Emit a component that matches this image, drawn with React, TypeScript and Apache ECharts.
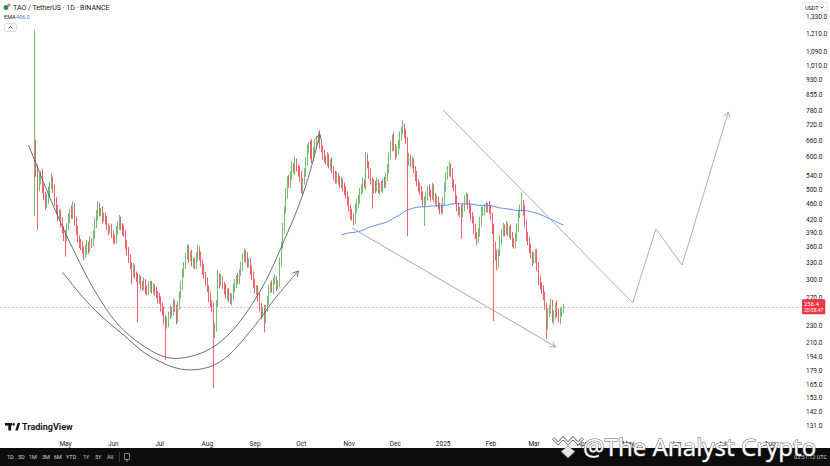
import { useEffect, useRef } from 'react';
import * as echarts from 'echarts';

// TAO / USDT daily, Binance. Day 0 = 2024-04-11 (listing day)
const START_DATE = Date.UTC(2024, 2, 20); // first category on the time axis
const CATEGORY_COUNT = 519;
const FIRST_CANDLE = 22; // category index of 2024-04-11
const FIRST_OPEN = 440;

const CLOSE = [
  614, 560, 510, 525, 545, 505, 480, 460, 470, 495, 512, 528, 500, 470, 445, 430, 438, 415, 398, 385,
  380, 405, 425, 440, 432, 455, 420, 395, 378, 370, 362, 355, 345, 352, 365, 358, 372, 370, 385, 410,
  432, 450, 438, 442, 425, 430, 418, 405, 398, 400, 388, 380, 375, 395, 410, 420, 405, 398, 390, 368,
  350, 340, 325, 315, 320, 308, 305, 298, 300, 292, 288, 295, 285, 280, 288, 292, 283, 286, 282, 276,
  270, 267, 258, 250, 240, 232, 236, 245, 252, 250, 262, 255, 240, 258, 275, 292, 310, 325, 342, 355,
  340, 345, 330, 333, 325, 340, 355, 345, 330, 318, 307, 298, 285, 272, 262, 258, 222, 228, 262, 305,
  295, 300, 290, 284, 275, 280, 270, 267, 272, 285, 295, 302, 298, 312, 325, 338, 348, 340, 328, 332,
  318, 305, 295, 283, 285, 270, 258, 248, 252, 239, 255, 268, 283, 290, 285, 298, 300, 290, 293, 330,
  365, 402, 445, 490, 528, 515, 545, 570, 560, 585, 565, 555, 540, 499, 525, 548, 590, 626, 640, 612,
  598, 625, 648, 665, 680, 650, 630, 610, 595, 588, 600, 575, 582, 560, 545, 528, 538, 530, 515, 522,
  510, 495, 485, 471, 450, 435, 428, 421, 448, 465, 471, 495, 505, 520, 515, 600, 575, 548, 525, 499,
  515, 505, 520, 500, 510, 505, 522, 515, 540, 560, 605, 640, 670, 635, 610, 620, 650, 675, 700, 705,
  690, 660, 590, 598, 580, 585, 560, 540, 520, 510, 495, 485, 462, 471, 480, 500, 490, 482, 505, 480,
  468, 471, 455, 448, 445, 470, 505, 540, 555, 568, 548, 520, 505, 470, 455, 440, 445, 435, 455, 470,
  478, 462, 445, 432, 421, 400, 385, 376, 390, 420, 440, 445, 452, 448, 455, 450, 430, 400, 365, 345,
  326, 350, 375, 392, 402, 395, 405, 392, 398, 385, 372, 365, 380, 405, 434, 450, 462, 445, 412, 385,
  372, 360, 345, 335, 340, 350, 322, 300, 290, 282, 275, 258, 233, 248, 255, 262, 240, 245, 258, 250,
  240, 248, 253, 256.4,
];

// upper / lower wick length, % of the body's top / bottom
const UP_WICK = [
  101, 8, 3, 4, 2, 3, 2, 3, 4, 3, 2, 4, 2, 3, 2, 3, 2, 2, 3, 2,
  3, 2, 3, 2, 4, 3, 2, 2, 3, 2, 2, 3, 2, 4, 3, 2, 3, 2, 3, 4,
  3, 4, 3, 2, 3, 2, 2, 3, 2, 2, 3, 2, 2, 3, 2, 3, 2, 2, 3, 2,
  2, 3, 2, 2, 3, 2, 2, 2, 3, 2, 2, 3, 2, 2, 3, 2, 2, 3, 2, 2,
  2, 3, 2, 2, 3, 2, 3, 2, 3, 2, 3, 2, 2, 3, 2, 2, 3, 2, 2, 3,
  3, 2, 3, 2, 2, 3, 3, 2, 2, 2, 3, 2, 2, 2, 3, 2, 2, 3, 2, 4,
  2, 3, 2, 2, 3, 2, 2, 3, 2, 3, 2, 2, 3, 2, 2, 3, 3, 2, 3, 2,
  2, 2, 3, 2, 2, 2, 3, 2, 2, 3, 2, 2, 3, 2, 3, 2, 3, 2, 2, 3,
  2, 3, 2, 3, 2, 3, 2, 3, 2, 3, 2, 2, 3, 3, 2, 3, 2, 3, 2, 3,
  9, 2, 3, 2, 2, 3, 2, 2, 3, 2, 3, 2, 2, 3, 2, 2, 3, 2, 2, 3,
  2, 2, 3, 2, 2, 2, 3, 2, 3, 2, 3, 2, 2, 3, 2, 3, 2, 2, 3, 2,
  3, 2, 3, 2, 2, 3, 2, 3, 2, 3, 2, 3, 2, 3, 2, 3, 2, 3, 2, 5,
  3, 2, 2, 3, 2, 3, 2, 2, 3, 2, 2, 3, 2, 2, 3, 2, 3, 2, 3, 2,
  2, 3, 2, 2, 3, 2, 3, 2, 3, 3, 2, 3, 2, 2, 3, 2, 2, 3, 2, 3,
  3, 2, 2, 3, 2, 2, 3, 2, 3, 2, 3, 2, 2, 3, 2, 3, 2, 2, 3, 2,
  3, 2, 3, 2, 3, 2, 3, 2, 2, 3, 2, 2, 3, 2, 3, 2, 6, 2, 3, 2,
  2, 3, 2, 2, 3, 2, 2, 3, 2, 2, 3, 2, 2, 3, 2, 3, 2, 3, 2, 3,
  2, 3, 2, 2,
];

const DOWN_WICK = [
  2, 4, 22, 3, 2, 3, 2, 3, 2, 2, 3, 2, 2, 3, 2, 3, 2, 3, 2, 3,
  10, 2, 2, 3, 2, 2, 3, 2, 2, 3, 2, 2, 3, 2, 2, 3, 2, 3, 2, 2,
  2, 3, 2, 2, 3, 2, 2, 2, 3, 2, 2, 3, 2, 2, 2, 3, 2, 3, 2, 3,
  2, 3, 2, 7, 3, 2, 3, 21, 2, 3, 2, 2, 3, 2, 2, 3, 2, 2, 3, 2,
  3, 2, 3, 2, 3, 18, 2, 3, 2, 3, 2, 2, 3, 2, 2, 2, 3, 2, 2, 2,
  3, 2, 2, 3, 2, 2, 2, 3, 2, 3, 2, 3, 2, 3, 2, 3, 27, 3, 2, 2,
  3, 2, 2, 3, 2, 3, 2, 2, 3, 2, 2, 3, 2, 2, 2, 3, 2, 3, 2, 2,
  3, 2, 3, 2, 3, 2, 3, 3, 2, 7, 2, 2, 3, 2, 2, 3, 2, 3, 2, 2,
  2, 2, 3, 2, 3, 2, 2, 3, 2, 3, 2, 3, 3, 2, 3, 2, 2, 3, 2, 3,
  3, 2, 2, 3, 2, 3, 2, 3, 2, 2, 3, 2, 3, 2, 3, 2, 2, 3, 2, 2,
  3, 2, 2, 3, 2, 3, 2, 3, 2, 2, 3, 2, 2, 3, 2, 3, 2, 3, 2, 10,
  2, 3, 2, 2, 3, 2, 3, 2, 2, 3, 2, 2, 3, 2, 3, 2, 2, 3, 2, 2,
  3, 2, 35, 3, 2, 3, 2, 3, 2, 3, 2, 3, 2, 12, 3, 2, 2, 3, 2, 3,
  2, 3, 2, 3, 2, 2, 3, 2, 2, 3, 2, 3, 2, 2, 3, 2, 3, 13, 2, 3,
  2, 3, 2, 3, 2, 3, 2, 3, 2, 2, 3, 2, 3, 2, 2, 3, 2, 3, 35, 3,
  3, 2, 2, 3, 2, 3, 2, 2, 3, 2, 3, 2, 2, 2, 3, 2, 2, 3, 2, 3,
  2, 3, 2, 3, 2, 3, 2, 3, 2, 2, 3, 2, 8, 3, 2, 3, 2, 3, 2, 3,
  2, 3, 2, 2,
];

const PRICE_TICKS = [
  1330, 1210, 1090, 1010, 930, 855, 780, 720, 660, 600, 540, 500, 460, 420,
  390, 360, 330, 300, 270, 230, 210, 194, 179, 165, 153, 142, 131,
];
const Y_TOP_PRICE = 1465;
const Y_BOTTOM_PRICE = 123.6;
const LAST_PRICE = 256.4;
const LAST_TIME = '20:08:47';
const EMA_LENGTH = 200;
const EMA_LABEL = '406.0';
const MONTHS = ['Jan', 'Feb', 'Mar', 'Apr', 'May', 'Jun', 'Jul', 'Aug', 'Sep', 'Oct', 'Nov', 'Dec'];

// drawings: [day, price]
const CUP_INNER = [[-4, 644], [22, 376], [50, 243], [75, 201], [94, 192], [120, 210], [144, 272], [164, 391], [176, 513], [185, 685]];
const CUP_OUTER = [[18, 313], [37, 257], [59, 217], [75, 194], [98, 180], [120, 188], [142, 229], [155, 267], [171, 315]];
const CHANNEL_LOWER = [[206, 402], [338, 205]];
const PROJECTION = [[265, 785], [388, 263], [403, 400], [420, 326], [450, 776]];

const FONT = 'Roboto, "Noto Sans", sans-serif';
const TEXT = '#131722';
const UP = '#4caf50';
const DOWN = '#f23645';

const ANNOTATIONS = [
  { points: CUP_INNER, color: '#5e5e5e', smooth: 0.35 },
  { points: CUP_OUTER, color: '#5e5e5e', smooth: 0.35 },
  { points: CHANNEL_LOWER, color: '#9b9da3', smooth: 0 },
  { points: PROJECTION, color: '#a5a7ad', smooth: 0 },
];

const categories = Array.from({ length: CATEGORY_COUNT }, (_, i) => {
  const d = new Date(START_DATE + i * 86400000);
  return `${d.getUTCFullYear()}-${d.getUTCMonth() + 1}-${d.getUTCDate()}`;
});

const monthLabel = (v: string) => {
  const [y, m] = v.split('-').map(Number);
  return m === 1 ? String(y) : MONTHS[m - 1];
};

const candles = CLOSE.map((c, d) => {
  const o = d === 0 ? FIRST_OPEN : CLOSE[d - 1];
  const h = Math.max(o, c) * (1 + UP_WICK[d] / 100);
  const l = Math.min(o, c) * (1 - DOWN_WICK[d] / 100);
  return [d + FIRST_CANDLE, Math.log(o), Math.log(c), Math.log(l), Math.log(h)];
});

const ema: number[][] = [];
{
  const k = 2 / (EMA_LENGTH + 1);
  let e = 0;
  CLOSE.forEach((c, d) => {
    if (d < EMA_LENGTH - 1) return;
    if (d === EMA_LENGTH - 1) e = CLOSE.slice(0, EMA_LENGTH).reduce((a, b) => a + b, 0) / EMA_LENGTH;
    else e = c * k + e * (1 - k);
    ema.push([d + FIRST_CANDLE, Math.log(e)]);
  });
}

const arrowHead = (from: number[], to: number[], size = 6) => {
  const ang = Math.atan2(to[1] - from[1], to[0] - from[0]);
  const a1 = ang + Math.PI - Math.PI / 6;
  const a2 = ang + Math.PI + Math.PI / 6;
  return [
    [to[0] + size * Math.cos(a1), to[1] + size * Math.sin(a1)],
    to,
    [to[0] + size * Math.cos(a2), to[1] + size * Math.sin(a2)],
  ];
};

const BOTTOM_BUTTONS: [string, number][] = [
  ['1D', 7], ['5D', 18], ['1M', 29], ['3M', 42], ['6M', 54], ['YTD', 66], ['1Y', 83], ['5Y', 95], ['All', 107],
];

export default function App() {
  const chartRef = useRef<HTMLDivElement>(null);

  useEffect(() => {
    if (!chartRef.current) return;
    const chart = echarts.init(chartRef.current, null, { renderer: 'svg' });

    const option: any = {
      animation: false,
      backgroundColor: '#ffffff',
      textStyle: { fontFamily: FONT },
      grid: { left: 0, right: 30, top: 0, bottom: 30, containLabel: false, outerBoundsMode: 'none' },
      xAxis: {
        type: 'category',
        data: categories,
        boundaryGap: true,
        axisLine: { show: false },
        axisTick: { show: false },
        splitLine: { show: false },
        axisLabel: {
          // month starts only, from the first traded month on
          interval: (i: number, v: string) => i > FIRST_CANDLE && v.endsWith('-1'),
          formatter: (v: string) => monthLabel(v),
          fontSize: 6.5,
          color: TEXT,
          margin: 4,
          fontFamily: FONT,
        },
      },
      yAxis: {
        type: 'value',
        position: 'right',
        min: Math.log(Y_BOTTOM_PRICE),
        max: Math.log(Y_TOP_PRICE),
        splitLine: { show: false },
        axisLine: { show: false },
        axisTick: { show: false },
        axisLabel: {
          customValues: PRICE_TICKS.map((p) => Math.log(p)),
          formatter: (v: number) =>
            Math.exp(v).toLocaleString('en-US', { minimumFractionDigits: 1, maximumFractionDigits: 1 }),
          fontSize: 6.5,
          color: TEXT,
          margin: 6,
          fontFamily: FONT,
        },
      },
      series: [
        {
          type: 'candlestick',
          data: candles,
          encode: { x: 0, y: [1, 2, 3, 4] },
          barWidth: 1,
          itemStyle: {
            color: UP,
            color0: DOWN,
            borderColor: UP,
            borderColor0: DOWN,
            borderWidth: 0.8,
          },
          markLine: {
            silent: true,
            symbol: 'none',
            data: [{ yAxis: Math.log(LAST_PRICE) }],
            lineStyle: { color: '#f5a3aa', type: [2, 2], width: 0.8, opacity: 1 },
            label: {
              show: true,
              position: 'end',
              distance: 2,
              formatter: () => `{p|${LAST_PRICE.toFixed(1)}}\n{t|${LAST_TIME}}`,
              backgroundColor: DOWN,
              padding: [1, 2, 1, 2],
              borderRadius: 1,
              rich: {
                p: { color: '#fff', fontSize: 6, lineHeight: 7, fontFamily: FONT },
                t: { color: '#fff', fontSize: 5, lineHeight: 6, fontFamily: FONT },
              },
            },
          },
        },
        {
          type: 'line',
          data: ema,
          symbol: 'none',
          lineStyle: { color: '#5b86f0', width: 1 },
          z: 3,
        },
        {
          type: 'custom',
          clip: false,
          z: 4,
          data: ANNOTATIONS.map(() => [FIRST_CANDLE, Math.log(LAST_PRICE)]),
          renderItem: (params: any, api: any) => {
            const a = ANNOTATIONS[params.dataIndex];
            const pts = a.points.map(([d, p]) => api.coord([d + FIRST_CANDLE, Math.log(p)]));
            const n = pts.length;
            return {
              type: 'group',
              children: [
                {
                  type: 'polyline',
                  shape: { points: pts, smooth: a.smooth },
                  style: { stroke: a.color, fill: 'none', lineWidth: 0.9 },
                },
                {
                  type: 'polyline',
                  shape: { points: arrowHead(pts[n - 2], pts[n - 1]) },
                  style: { stroke: a.color, fill: 'none', lineWidth: 0.9 },
                },
              ],
            };
          },
        },
      ],
      graphic: [
        // header
        { type: 'circle', shape: { cx: 6, cy: 7.5, r: 2.5 }, style: { fill: '#2b8a6e' } },
        { type: 'circle', shape: { cx: 9, cy: 5, r: 1.6 }, style: { fill: '#f0803c' } },
        {
          type: 'text', x: 13, y: 7.5,
          style: { text: 'TAO / TetherUS · 1D · BINANCE', fontSize: 7, fill: TEXT, verticalAlign: 'middle', fontFamily: FONT },
        },
        { type: 'text', x: 4, y: 17, style: { text: 'EMA', fontSize: 5.5, fill: TEXT, verticalAlign: 'middle', fontFamily: FONT } },
        { type: 'text', x: 16, y: 17, style: { text: EMA_LABEL, fontSize: 5.5, fill: '#4f7cf2', verticalAlign: 'middle', fontFamily: FONT } },
        { type: 'rect', shape: { x: 4.5, y: 23.5, width: 12, height: 8, r: 2 }, style: { fill: '#fff', stroke: '#d1d4dc', lineWidth: 0.8 } },
        { type: 'polyline', shape: { points: [[8.5, 28.5], [10.5, 26.5], [12.5, 28.5]] }, style: { stroke: TEXT, fill: 'none', lineWidth: 0.8 } },
        // price axis currency
        { type: 'rect', shape: { x: 802, y: 2.5, width: 25, height: 10, r: 1.5 }, style: { fill: '#fff', stroke: '#e0e3eb', lineWidth: 0.8 } },
        { type: 'text', x: 805, y: 7.5, style: { text: 'USDT', fontSize: 5.5, fill: TEXT, verticalAlign: 'middle', fontFamily: FONT } },
        { type: 'polyline', shape: { points: [[820.5, 6.5], [822, 8], [823.5, 6.5]] }, style: { stroke: TEXT, fill: 'none', lineWidth: 0.7 } },
        // TradingView logo
        { type: 'rect', shape: { x: 5, y: 423, width: 7, height: 2.6 }, style: { fill: TEXT } },
        { type: 'rect', shape: { x: 8.3, y: 423, width: 2.8, height: 7.5 }, style: { fill: TEXT } },
        { type: 'circle', shape: { cx: 13.6, cy: 424.3, r: 1.3 }, style: { fill: TEXT } },
        { type: 'polygon', shape: { points: [[15.2, 430.5], [17.6, 423], [20.2, 423], [17.8, 430.5]] }, style: { fill: TEXT } },
        {
          type: 'text', x: 22, y: 427,
          style: { text: 'TradingView', fontSize: 9, fontWeight: 'bold', fill: TEXT, verticalAlign: 'middle', fontFamily: FONT },
        },
        // bottom toolbar
        { type: 'rect', z: 50, shape: { x: 0, y: 448, width: 830, height: 18 }, style: { fill: '#0d0d0d' } },
        ...BOTTOM_BUTTONS.map(([t, x]) => ({
          type: 'text', z: 51, x, y: 457,
          style: { text: t, fontSize: 5.5, fill: '#d1d4dc', verticalAlign: 'middle', fontFamily: FONT },
        })),
        { type: 'line', z: 51, shape: { x1: 119.5, y1: 452, x2: 119.5, y2: 462 }, style: { stroke: '#434651', lineWidth: 0.8 } },
        { type: 'rect', z: 51, shape: { x: 124.5, y: 453.5, width: 5, height: 6 }, style: { fill: 'none', stroke: '#b2b5be', lineWidth: 0.7 } },
        { type: 'line', z: 51, shape: { x1: 127, y1: 459, x2: 127, y2: 462 }, style: { stroke: '#b2b5be', lineWidth: 0.7 } },
        {
          type: 'text', z: 51, x: 827, y: 457,
          style: { text: '03:51:12 UTC', fontSize: 5.5, fill: '#d1d4dc', align: 'right', verticalAlign: 'middle', fontFamily: FONT },
        },
        // watermark
        {
          type: 'polyline', z: 60,
          shape: { points: [[553, 438], [558, 443.5], [563, 438], [568, 443.5], [573, 438], [578, 443.5], [583, 438]] },
          style: { stroke: '#6a6a6a', fill: 'none', lineWidth: 3 },
        },
        {
          type: 'polyline', z: 61,
          shape: { points: [[553, 438], [558, 443.5], [563, 438], [568, 443.5], [573, 438], [578, 443.5], [583, 438]] },
          style: { stroke: '#ffffff', fill: 'none', lineWidth: 1.4 },
        },
        {
          type: 'polygon', z: 61,
          shape: { points: [[568, 446], [575, 451.5], [568, 458], [561, 451.5]] },
          style: { fill: '#e6e6e6', stroke: '#777', lineWidth: 0.6 },
        },
        {
          type: 'text', z: 62, x: 583, y: 446,
          style: {
            text: '@The Analyst Crypto',
            fontSize: 24,
            fontFamily: '"Noto Sans", sans-serif',
            fill: '#ffffff',
            stroke: '#5c5c5c',
            lineWidth: 1,
            verticalAlign: 'middle',
          },
        },
      ],
    };

    chart.setOption(option);

    return () => {
      chart.dispose();
    };
  }, []);

  return (
    <div style={{ position: 'fixed', left: 0, top: 0, width: 830, height: 466, background: '#fff' }}>
      <div ref={chartRef} style={{ width: 830, height: 466 }} />
    </div>
  );
}
